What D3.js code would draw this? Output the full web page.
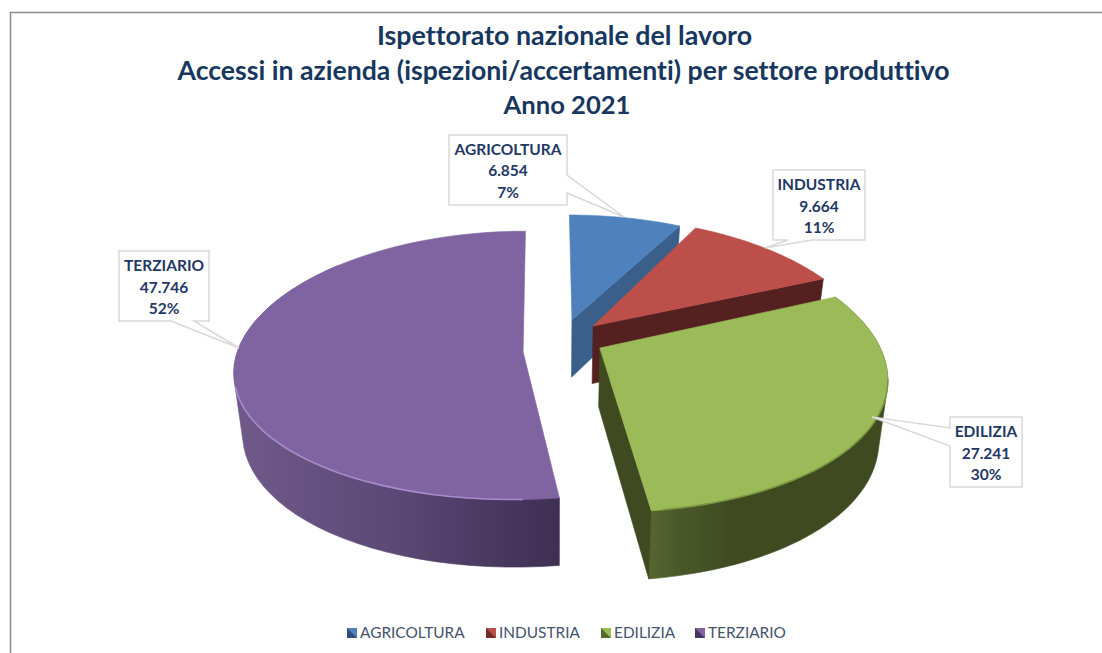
<!DOCTYPE html>
<html><head><meta charset="utf-8">
<script src="https://cdn.jsdelivr.net/npm/d3@7"></script>
<style>html,body{margin:0;padding:0;background:#fff}svg{display:block}text{font-family:Lato,"Open Sans",sans-serif;font-variant-ligatures:none}</style>
</head><body><svg id="c" width="1102" height="653"></svg>
<script>
const categories=["AGRICOLTURA","INDUSTRIA","EDILIZIA","TERZIARIO"];
const values=[6854,9664,27241,47746];
const valueLabels=["6.854","9.664","27.241","47.746"];
const percentLabels=["7%","11%","30%","52%"];
const titleLines=["Ispettorato nazionale del lavoro","Accessi in azienda (ispezioni/accertamenti) per settore produttivo","Anno 2021"];
const topColors=["#4f81bd","#bd4f4b","#9bbb59","#8064a2"];
const wallColors=["#3a5f8a","#552120","#3f4a21","#45355f"];
const darkColors=["#2f4f78","#6e2c2a","#55682e","#46365f"];

// layout of each exploded slice, in pie-plane units: shift u, shift v, scale u, scale v
const rimLayout=[[.056,-.189,1,1],[.12,-.17,1,1],[.14,.003,1,1.04],[-.125,-.03,.99,1]];
const apexOffset=[[.058,-.248],[.134,-.2],[.154,-.03],[-.115,0]];
const boxes=[
 {x:449,y:135,w:118,h:70,cx:508,base:154.5,tip:[624,217],a:[567,175],b:[567,193]},
 {x:773,y:170,w:92,h:70,cx:819,base:190,tip:[765,248],a:[788,240],b:[812,240]},
 {x:950,y:417,w:72,h:70,cx:986,base:437,tip:[872,417],a:[950,428],b:[950,446]},
 {x:119,y:251,w:90,h:70,cx:164,base:271,tip:[239,348],a:[171,321],b:[194,321]}
];

const svg=d3.select("#c");
const defs=svg.append("defs");
const grad=(id,stops,x1,x2)=>{const g=defs.append("linearGradient").attr("id",id).attr("gradientUnits","userSpaceOnUse")
  .attr("x1",x1).attr("x2",x2).attr("y1",0).attr("y2",0);
  stops.forEach(s=>g.append("stop").attr("offset",s[0]).attr("stop-color",s[1]));};
grad("wall2",[[0,"#55652f"],[.1,"#4b5a2a"],[.33,"#3f4a21"],[1,"#3f4a21"]],652,890);
grad("wall3",[[0,"#6f5a8a"],[.5,"#5c4875"],[.8,"#49385f"],[1,"#3f2f55"]],236,558);
defs.append("filter").attr("id","soft").append("feGaussianBlur").attr("stdDeviation",.7);

svg.append("path").attr("d","M10.5,653V12.5H1102").attr("fill","none").attr("stroke","#8a8a8a").attr("stroke-width",1.5);

// projection: pie plane to screen with a mild perspective
const kx=.165, ky=.13, depth=59, narrow=.027;
const sx=d3.scaleLinear().domain([0,1]).range([556,842]);
const sy=d3.scaleLinear().domain([0,1]).range([352,485]);
function project(U,V,z){
  const X=U/(1-kx*V), Y=V/(1-ky*V);
  return [sx(X*(1-narrow*z)), sy(Y)+depth/(1-ky*V)*z];
}

const pie=d3.pie().sort(null).value(d=>d);
const arcs=pie(values);
const line=d3.line();
function rim(i,z){const a=arcs[i],o=rimLayout[i];
  return d3.range(0,61).map(j=>{const t=a.startAngle+(a.endAngle-a.startAngle)*j/60;
    return project(Math.sin(t)*o[2]+o[0],-Math.cos(t)*o[3]+o[1],z);});}
const apex=(i,z)=>project(apexOffset[i][0],apexOffset[i][1],z);

const g=svg.append("g");
function shape(pts,fill){g.append("path").attr("d",line(pts)+"Z").attr("fill",fill).attr("stroke",fill).attr("stroke-width",.6).attr("stroke-linejoin","round");}
// the curved wall is the hull of the upper and lower rims; the top face hides its back part
function outerWall(top,bot,to,fill){
  shape(d3.polygonHull([...top.slice(0,to),...bot.slice(0,to)]),fill);
}

// back to front: agriculture, industry, construction, services
categories.forEach((c,i)=>{
  const top=rim(i,0), bot=rim(i,1);
  if(i===0||i===1) shape([apex(i,0),top[60],bot[60],apex(i,1)],wallColors[i]);
  if(i===2){
    outerWall(top,bot,61,"url(#wall2)");
    shape([apex(i,0),top[60],bot[60],apex(i,1)],wallColors[i]);
  }
  if(i===3) outerWall(top,bot,46,"url(#wall3)");
  shape([apex(i,0),...top],topColors[i]);
  if(i===2) g.append("path").attr("d",line(top.slice(20,60))).attr("fill","none").attr("stroke","#7a9640").attr("stroke-width",1.6).attr("filter","url(#soft)");
  if(i===3) g.append("path").attr("d",line(top.slice(2,27))).attr("fill","none").attr("stroke","#a68ccb").attr("stroke-width",1.6).attr("filter","url(#soft)");
});

// callouts
const label=svg.append("g");
boxes.forEach((b,i)=>{
  const side=b.a[1]===b.b[1]?"h":(b.a[0]===b.x?"l":"r");
  let d;
  const L=b.x,R=b.x+b.w,T=b.y,B=b.y+b.h;
  if(side==="h") d=`M${L},${T}H${R}V${B}H${b.b[0]}L${b.tip}L${b.a[0]},${B}H${L}Z`;
  if(side==="r") d=`M${L},${T}H${R}V${b.a[1]}L${b.tip}L${R},${b.b[1]}V${B}H${L}Z`;
  if(side==="l") d=`M${L},${T}H${R}V${B}H${L}V${b.b[1]}L${b.tip}L${L},${b.a[1]}Z`;
  label.append("path").attr("d",d).attr("fill","#fff").attr("stroke","#d9d9d9").attr("stroke-width",1.5);
  [categories[i],valueLabels[i],percentLabels[i]].forEach((t,j)=>
    label.append("text").attr("x",b.cx).attr("y",b.base+j*21.6).attr("text-anchor","middle")
      .attr("font-size",15.5).attr("font-weight",700).attr("fill","#1f3864").text(t));
});

// title
titleLines.forEach((t,i)=>svg.append("text").attr("x",[564.5,563.5,567][i]).attr("y",[45,80,114][i]).attr("text-anchor","middle")
  .attr("font-size",[26.8,26.65,25.6][i]).attr("font-weight",700).attr("fill","#17375e").text(t));

// legend
const legX=[347,486,601,695];
categories.forEach((c,i)=>{
  const x=legX[i],y=628,s=10;
  const lg=svg.append("g");
  lg.append("rect").attr("x",x).attr("y",y).attr("width",s).attr("height",s).attr("fill",topColors[i]);
  lg.append("path").attr("d",`M${x},${y}L${x+s},${y+s}H${x}Z`).attr("fill",darkColors[i]);
  lg.append("text").attr("x",x+13).attr("y",638).attr("font-size",15.4).attr("fill","#44546a").text(c);
});
</script></body></html>
